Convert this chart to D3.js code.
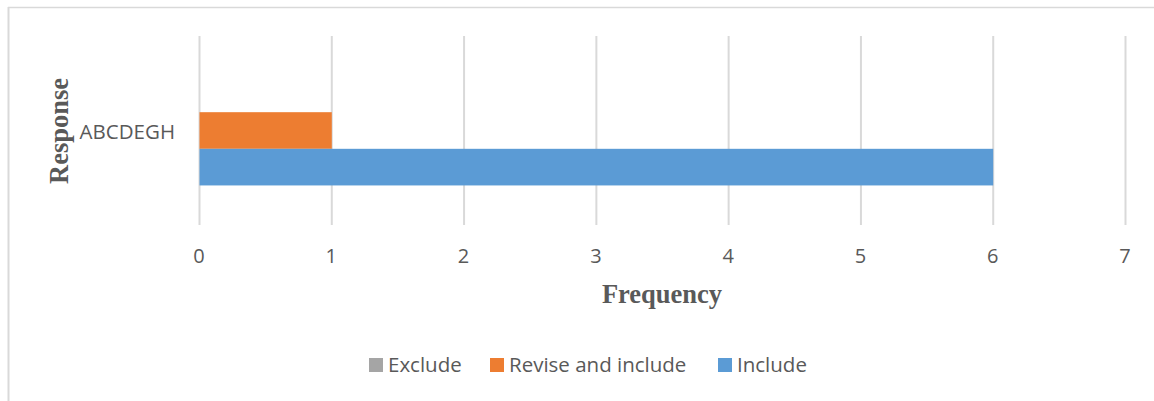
<!DOCTYPE html>
<html>
<head>
<meta charset="utf-8">
<script src="https://cdn.jsdelivr.net/npm/d3@7"></script>
<style>
  body { margin: 0; background: #fff; }
  svg { display: block; }
</style>
</head>
<body>
<div id="chart"></div>
<script>
// chart data
const categories = ["ABCDEGH"];
const seriesNames = ["Exclude", "Revise and include", "Include"];
const seriesColors = ["#a5a5a5", "#ed7d31", "#5b9bd5"];
const excludeValues = [0];
const reviseValues = [1];
const includeValues = [6];
const xTicks = [0, 1, 2, 3, 4, 5, 6, 7];

const width = 1154, height = 401;
const margin = { top: 36, right: 29, bottom: 176, left: 199 };
const plotW = width - margin.left - margin.right;
const plotH = height - margin.top - margin.bottom;

const svg = d3.select("#chart").append("svg")
  .attr("width", width)
  .attr("height", height);

// chart border (only top and left show in the picture)
svg.append("line").attr("x1", 8).attr("x2", width).attr("y1", 7.5).attr("y2", 7.5)
  .attr("stroke", "#d9d9d9").attr("stroke-width", 1.5);
svg.append("line").attr("x1", 8.5).attr("x2", 8.5).attr("y1", 7).attr("y2", height)
  .attr("stroke", "#d9d9d9").attr("stroke-width", 2);

const g = svg.append("g").attr("transform", `translate(${margin.left},${margin.top})`);

const x = d3.scaleLinear().domain([0, 7]).range([0, plotW]);
const y = d3.scaleBand().domain(categories).range([0, plotH]).paddingInner(0).paddingOuter(0.36);

// first series sits on top here, Include at the bottom
const inner = d3.scaleBand().domain(seriesNames).range([0, y.bandwidth()]);

// gridlines
g.selectAll(".grid").data(xTicks).enter().append("line")
  .attr("x1", d => x(d) + 0.5).attr("x2", d => x(d) + 0.5)
  .attr("y1", 0).attr("y2", plotH)
  .attr("stroke", "#d9d9d9").attr("stroke-width", 2);

const series = [
  { name: seriesNames[0], values: excludeValues, color: seriesColors[0] },
  { name: seriesNames[1], values: reviseValues, color: seriesColors[1] },
  { name: seriesNames[2], values: includeValues, color: seriesColors[2] }
];

series.forEach(function(s) {
  g.selectAll(null).data(s.values).enter().append("rect")
    .attr("x", x(0) + 0.5)
    .attr("y", (d, i) => y(categories[i]) + inner(s.name))
    .attr("width", d => Math.max(0, x(d) - x(0)))
    .attr("height", inner.bandwidth())
    .attr("fill", s.color);
});

// x tick labels
g.selectAll(".tick").data(xTicks).enter().append("text")
  .attr("x", d => x(d))
  .attr("y", plotH + 38)
  .attr("text-anchor", "middle")
  .style("font-family", '"Open Sans", "Liberation Sans", sans-serif')
  .style("font-size", "20px")
  .attr("fill", "#595959")
  .text(d => d);

// category labels
g.selectAll(".cat").data(categories).enter().append("text")
  .attr("x", -24)
  .attr("y", d => y(d) + inner("Revise and include") + inner.bandwidth() / 2 + 1)
  .attr("dy", "0.35em")
  .attr("text-anchor", "end")
  .style("font-family", '"Open Sans", "Liberation Sans", sans-serif')
  .style("font-size", "20.5px")
  .attr("fill", "#595959")
  .text(d => d);

// axis titles
svg.append("text")
  .attr("x", margin.left + x(3.5))
  .attr("y", 303)
  .attr("text-anchor", "middle")
  .style("font-family", '"Liberation Serif", "Times New Roman", serif')
  .style("font-weight", "bold")
  .style("font-size", "26.5px")
  .attr("fill", "#595959")
  .text("Frequency");

svg.append("text")
  .attr("transform", "translate(68,131) rotate(-90)")
  .attr("text-anchor", "middle")
  .style("font-family", '"Liberation Serif", "Times New Roman", serif')
  .style("font-weight", "bold")
  .style("font-size", "26.5px")
  .attr("fill", "#595959")
  .text("Response");

// legend
const legendX = [369, 490, 718];
const legend = svg.selectAll(".legend").data(series).enter().append("g")
  .attr("transform", (d, i) => `translate(${legendX[i]},365)`);
legend.append("rect")
  .attr("x", 0).attr("y", -7).attr("width", 14).attr("height", 14)
  .attr("fill", d => d.color);
legend.append("text")
  .attr("x", 19).attr("y", 0).attr("dy", "0.35em")
  .style("font-family", '"Open Sans", "Liberation Sans", sans-serif')
  .style("font-size", "20.5px")
  .attr("fill", "#595959")
  .text(d => d.name);
</script>
</body>
</html>
